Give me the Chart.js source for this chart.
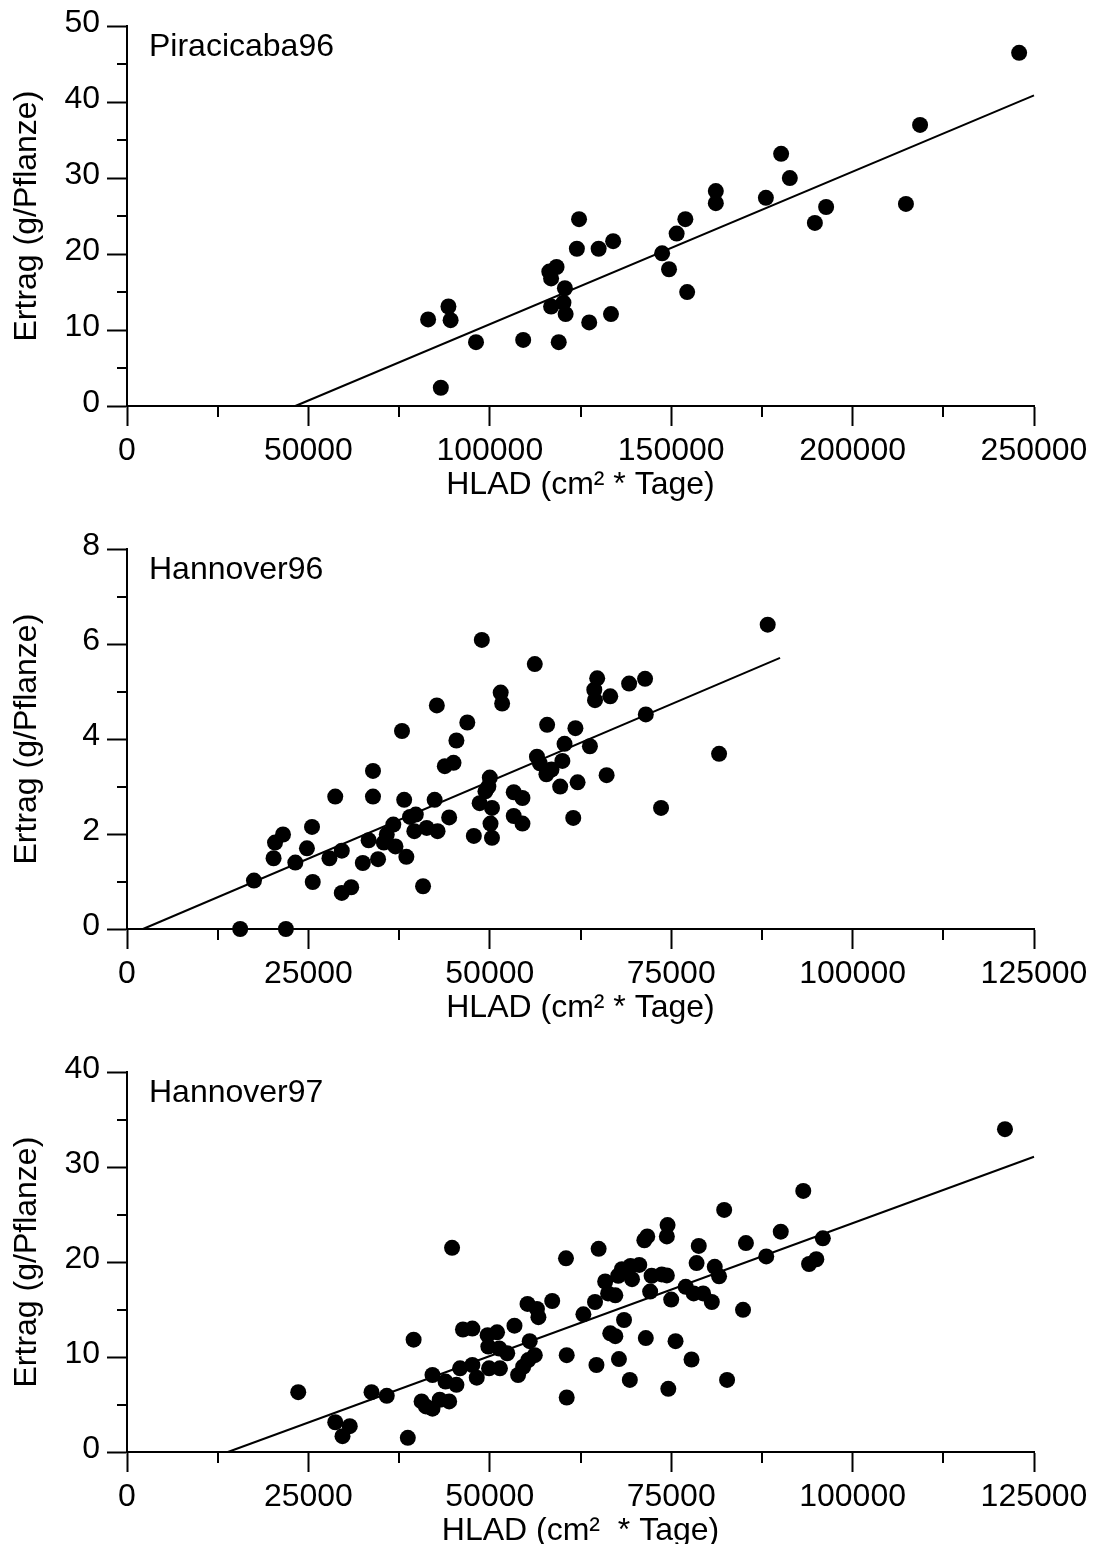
<!DOCTYPE html>
<html>
<head>
<meta charset="utf-8">
<script src="https://cdn.jsdelivr.net/npm/chart.js@4/dist/chart.umd.min.js"></script>
<style>
  html, body { margin: 0; padding: 0; background: #fff; overflow: hidden; }
  .panel { position: absolute; left: 0; width: 1098px; height: 523px; }
</style>
</head>
<body>
<div class="panel" style="top:0"><canvas id="c1" width="1098" height="523"></canvas></div>
<div class="panel" style="top:523px"><canvas id="c2" width="1098" height="523"></canvas></div>
<div class="panel" style="top:1046px"><canvas id="c3" width="1098" height="523"></canvas></div>
<script>
// Piracicaba96
const piraX = [83000, 88600, 89200, 86500, 96200, 109200, 116400, 118400, 116900, 120700,
  116900, 120300, 120900, 119000, 124600, 124000, 130000, 134000, 127400, 133400,
  147500, 149400, 154400, 151500, 153900, 162300, 162300, 176100, 180300, 182700,
  189600, 192700, 214700, 218600, 245900];
const piraY = [11.4, 13.1, 11.3, 2.4, 8.4, 8.7, 17.7, 18.3, 16.8, 15.5,
  13.1, 13.6, 12.1, 8.4, 24.6, 20.7, 20.7, 21.7, 11.0, 12.1,
  20.1, 18.0, 15.0, 22.7, 24.6, 28.3, 26.7, 27.4, 33.2, 30.0,
  24.1, 26.2, 26.6, 37.0, 46.5];
const piraFitX = [46400, 250000];
const piraFitY = [0, 40.9];

// Hannover96
const han96X = [15600, 21900, 17500, 20200, 20400, 21500, 23200, 24800, 25500, 25600,
  27900, 28700, 29600, 29600, 30900, 32500, 33300, 33900, 33900, 34600,
  35400, 35800, 36700, 37000, 37900, 38200, 38500, 39000, 39800, 39600,
  40800, 41300, 42400, 42700, 42800, 44400, 43800, 45000, 45400, 46900,
  48900, 56200, 51500, 51700, 47800, 50300, 50000, 49800, 49400, 48600,
  50300, 50100, 53300, 54500, 53300, 54500, 56500, 56900, 57800, 58500,
  57900, 59700, 60000, 60300, 61800, 62100, 61500, 63800, 64800, 64400,
  64500, 66600, 66100, 69200, 71400, 71500, 73600, 81600, 88300];
const han96Y = [0, 0, 1.02, 1.49, 1.82, 1.99, 1.40, 1.70, 2.15, 0.99,
  1.49, 2.79, 1.65, 0.76, 0.88, 1.39, 1.87, 3.33, 2.79, 1.47,
  1.82, 1.99, 2.20, 1.74, 4.17, 2.72, 1.52, 2.36, 2.41, 2.06,
  0.90, 2.13, 2.72, 4.71, 2.06, 2.35, 3.43, 3.50, 3.97, 4.35,
  6.09, 5.58, 4.98, 4.75, 1.96, 1.92, 3.19, 3.00, 2.90, 2.65,
  2.55, 2.22, 2.88, 2.76, 2.38, 2.22, 3.63, 3.49, 3.26, 3.36,
  4.30, 3.00, 3.54, 3.90, 4.23, 3.09, 2.34, 3.85, 5.28, 5.04,
  4.82, 4.90, 3.24, 5.17, 5.27, 4.52, 2.55, 3.69, 6.41];
const han96FitX = [2200, 90000];
const han96FitY = [0, 5.71];

// Hannover97
const han97X = [23600, 28700, 30700, 29700, 33700, 35800, 38700, 39500, 40600, 41200,
  42100, 42100, 43100, 44400, 43900, 45400, 44800, 45900, 46300, 47600,
  47600, 48200, 49700, 51000, 49800, 51300, 52400, 49900, 51400, 53400,
  53900, 54600, 55300, 56200, 55500, 55200, 56500, 56700, 58600, 60500,
  60600, 60600, 62900, 64500, 65000, 64700, 65900, 66300, 67300, 66600,
  67300, 67800, 68500, 68200, 67700, 69400, 70600, 69600, 69300, 71300,
  71700, 71500, 72300, 72100, 73700, 74400, 74500, 74400, 75000, 74600,
  75600, 77000, 78100, 78800, 78500, 79400, 80600, 77800, 81000, 81600,
  82300, 82700, 84900, 85300, 88100, 90100, 93200, 95900, 94000, 95000,
  121000];
const han97Y = [6.30, 3.13, 2.72, 1.67, 6.30, 5.92, 1.49, 11.83, 5.33, 4.80,
  4.56, 8.11, 5.50, 5.33, 7.42, 7.07, 21.5, 8.81, 12.9, 13.0,
  9.16, 7.83, 12.3, 12.6, 11.1, 10.9, 10.4, 8.81, 8.81, 13.3,
  8.11, 8.98, 9.68, 10.2, 11.67, 15.6, 15.07, 14.2, 15.9, 20.4,
  10.2, 5.74, 14.5, 15.8, 21.4, 9.16, 17.96, 16.7, 16.5, 12.5,
  12.2, 9.79, 13.9, 19.25, 18.56, 19.6, 19.7, 18.2, 7.59, 22.3,
  22.7, 12.0, 18.56, 16.9, 18.7, 18.6, 23.9, 22.7, 16.05, 6.65,
  11.67, 17.4, 16.7, 21.7, 19.9, 16.7, 15.8, 9.74, 19.5, 18.5,
  25.5, 7.59, 14.97, 22.0, 20.6, 23.2, 27.5, 22.5, 19.8, 20.3,
  34.0];
const han97FitX = [13900, 125000];
const han97FitY = [0, 31.1];

const FONT = "'Liberation Sans', Arial, Helvetica, sans-serif";
Chart.defaults.font.family = FONT;
Chart.defaults.font.size = 32;
Chart.defaults.color = '#000';

// minor ticks halfway between the major ones + panel label
const decor = {
  id: 'decor',
  afterDraw(chart, args, opts) {
    const { ctx, chartArea, scales: { x, y } } = chart;
    ctx.save();
    ctx.strokeStyle = '#000';
    ctx.lineWidth = 2;
    for (let i = 0; i < x.ticks.length - 1; i++) {
      const px = Math.round(x.getPixelForValue((x.ticks[i].value + x.ticks[i + 1].value) / 2));
      ctx.beginPath(); ctx.moveTo(px, chartArea.bottom); ctx.lineTo(px, chartArea.bottom + 11); ctx.stroke();
    }
    for (let i = 0; i < y.ticks.length - 1; i++) {
      const py = Math.round(y.getPixelForValue((y.ticks[i].value + y.ticks[i + 1].value) / 2));
      ctx.beginPath(); ctx.moveTo(chartArea.left, py); ctx.lineTo(chartArea.left - 10, py); ctx.stroke();
    }
    ctx.fillStyle = '#000';
    ctx.font = '32px ' + FONT;
    ctx.textBaseline = 'middle';
    ctx.textAlign = 'left';
    ctx.fillText(opts.label, chartArea.left + 22, chartArea.top + 21);
    ctx.restore();
  }
};

function pts(xs, ys) {
  return xs.map((v, i) => ({ x: v, y: ys[i] }));
}

function makePanel(id, label, xs, ys, fx, fy, xMax, xStep, yMax, yStep, xTitle) {
  new Chart(document.getElementById(id), {
    type: 'scatter',
    data: {
      datasets: [
        { data: pts(xs, ys), backgroundColor: '#000', borderWidth: 0, pointRadius: 8, pointHoverRadius: 8, clip: false },
        { data: pts(fx, fy), showLine: true, borderColor: '#000', borderWidth: 2, pointRadius: 0, fill: false, clip: false }
      ]
    },
    options: {
      responsive: false,
      animation: false,
      events: [],
      layout: { padding: { top: 22, right: 64, left: 0, bottom: 0 } },
      plugins: { legend: { display: false }, tooltip: { enabled: false }, decor: { label } },
      scales: {
        x: {
          type: 'linear', min: 0, max: xMax,
          afterFit: s => { s.height = 117; },
          border: { color: '#000', width: 2 },
          grid: { drawOnChartArea: false, tickLength: 20, tickWidth: 2, tickColor: '#000' },
          ticks: { stepSize: xStep, padding: 6, maxRotation: 0, callback: v => String(v) },
          title: { display: true, text: xTitle, padding: { top: 0, bottom: 19 } }
        },
        y: {
          type: 'linear', min: 0, max: yMax,
          afterFit: s => { s.width = 127; },
          border: { color: '#000', width: 2 },
          grid: { drawOnChartArea: false, tickLength: 20, tickWidth: 2, tickColor: '#000' },
          ticks: { stepSize: yStep, padding: 7, labelOffset: -3, callback: v => String(v) },
          title: { display: true, text: 'Ertrag (g/Pflanze)', padding: { top: 8, bottom: 0 } }
        }
      }
    },
    plugins: [decor]
  });
}

makePanel('c1', 'Piracicaba96', piraX, piraY, piraFitX, piraFitY, 250000, 50000, 50, 10, 'HLAD (cm² * Tage)');
makePanel('c2', 'Hannover96', han96X, han96Y, han96FitX, han96FitY, 125000, 25000, 8, 2, 'HLAD (cm² * Tage)');
makePanel('c3', 'Hannover97', han97X, han97Y, han97FitX, han97FitY, 125000, 25000, 40, 10, 'HLAD (cm²  * Tage)');
</script>
</body>
</html>
